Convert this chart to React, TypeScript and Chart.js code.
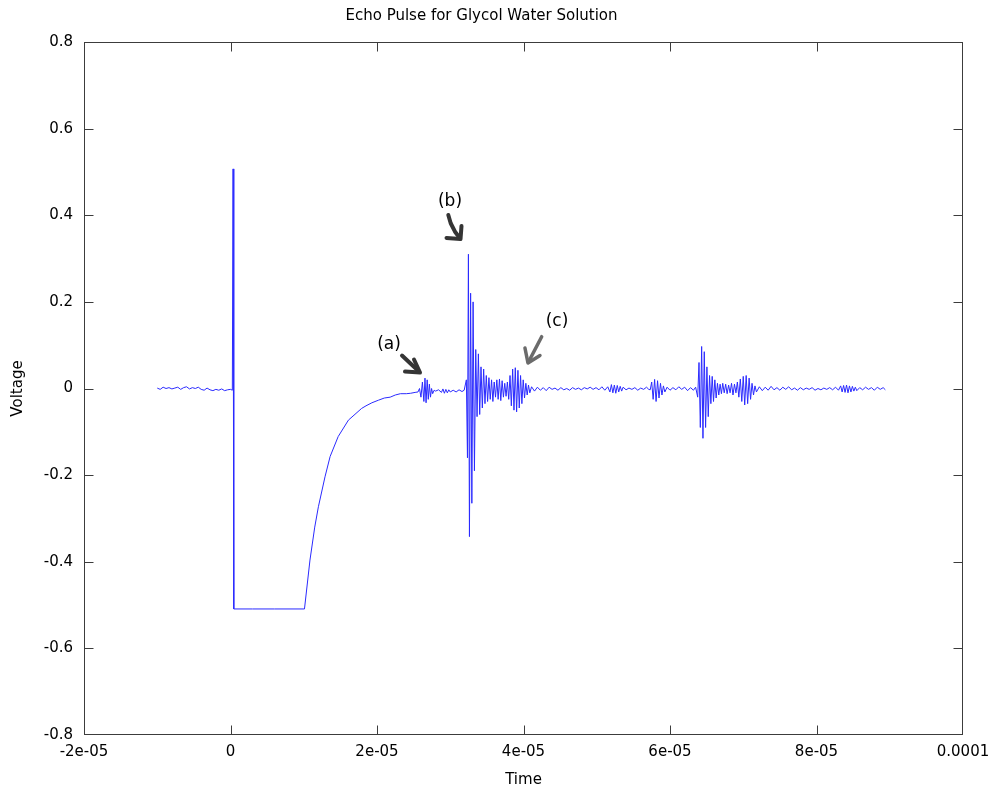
import React, { useEffect, useRef } from "react";
import { Chart, registerables } from "chart.js";

Chart.register(...registerables);

const TITLE = "Echo Pulse for Glycol Water Solution";
const X_LABEL = "Time";
const Y_LABEL = "Voltage";

// x axis works in microseconds; labels show seconds as in the original
const X_TICK_VALUES = [-20, 0, 20, 40, 60, 80, 100];
const X_TICK_LABELS = ["-2e-05", "0", "2e-05", "4e-05", "6e-05", "8e-05", "0.0001"];
const Y_TICK_VALUES = [-0.8, -0.6, -0.4, -0.2, 0, 0.2, 0.4, 0.6, 0.8];
const Y_TICK_LABELS = ["-0.8", "-0.6", "-0.4", "-0.2", "0", "0.2", "0.4", "0.6", "0.8"];

// ---- signal segments: time (µs) and voltage (V) ----
const preNoiseT = [-10.0, -9.6, -9.2, -8.8, -8.4, -8.0, -7.6, -7.2, -6.8, -6.4, -6.0, -5.6, -5.2, -4.8, -4.4, -4.0, -3.6, -3.2, -2.8, -2.4, -2.0, -1.6, -1.2, -0.8, -0.4, 0.0, 0.25];
const preNoiseV = [0.001, -0.002, 0.003, 0.0, 0.002, -0.001, 0.001, 0.003, -0.002, 0.002, 0.004, -0.001, 0.002, 0.0, 0.003, -0.002, -0.004, 0.001, -0.003, -0.005, -0.002, -0.004, -0.001, -0.005, -0.003, -0.002, -0.004];

const pulseT = [0.35, 0.45, 3.0, 6.0, 10.1];
const pulseV = [0.507, -0.509, -0.509, -0.509, -0.509];

const recoveryT = [10.85, 11.5, 12.0, 12.9, 13.6, 14.7, 16.1, 17.9, 18.5, 19.3, 20.2, 21.0, 21.8, 22.5, 23.2, 24.0, 24.6, 25.2];
const recoveryV = [-0.396, -0.32, -0.273, -0.204, -0.157, -0.111, -0.073, -0.046, -0.040, -0.033, -0.027, -0.022, -0.02, -0.015, -0.012, -0.012, -0.011, -0.009];

const echoAT = [25.6, 25.8, 26.0, 26.2, 26.4, 26.55, 26.7, 26.85, 27.0, 27.15, 27.3, 27.45, 27.6, 27.8, 28.0, 28.4, 28.8, 29.0, 29.2, 29.4, 29.6, 29.8, 30.0, 30.4, 30.8, 31.2, 31.6, 31.9];
const echoAV = [-0.008, 0.0, -0.02, 0.015, -0.03, 0.024, -0.033, 0.02, -0.025, 0.01, -0.02, 0.0, -0.012, -0.004, -0.006, -0.003, -0.009, -0.001, -0.011, -0.002, -0.01, -0.003, -0.008, -0.004, -0.008, -0.003, -0.007, -0.004];

const echoBT = [32.2, 32.35, 32.48, 32.62, 32.78, 32.95, 33.12, 33.3, 33.48, 33.66, 33.84, 34.02, 34.2, 34.38, 34.56, 34.74, 34.92, 35.1, 35.28, 35.46, 35.64, 35.82, 36.0, 36.18];
const echoBV = [0.02, -0.16, 0.31, -0.342, 0.22, -0.265, 0.2, -0.19, 0.09, -0.065, 0.08, -0.06, 0.05, -0.045, 0.045, -0.035, 0.03, -0.03, 0.025, -0.025, 0.02, -0.03, 0.015, -0.02];

const echoCT = [36.36, 36.54, 36.72, 36.9, 37.08, 37.26, 37.44, 37.62, 37.8, 37.98, 38.16, 38.34, 38.52, 38.7, 38.88, 39.06, 39.24, 39.42, 39.6, 39.78, 39.96, 40.14, 40.32, 40.5, 40.68, 40.86];
const echoCV = [0.02, -0.025, 0.022, -0.028, 0.018, -0.02, 0.012, -0.018, 0.015, -0.025, 0.03, -0.04, 0.045, -0.05, 0.048, -0.054, 0.042, -0.045, 0.03, -0.035, 0.02, -0.022, 0.012, -0.015, 0.008, -0.01];

const midNoiseT = [41.1, 41.5, 41.9, 42.3, 42.7, 43.1, 43.5, 43.9, 44.3, 44.7, 45.1, 45.5, 45.9, 46.3, 46.7, 47.1, 47.5, 47.9, 48.3, 48.7, 49.1, 49.5, 49.9, 50.3, 50.7, 51.1, 51.5, 51.8, 52.0, 52.2, 52.4, 52.6, 52.8, 53.0, 53.2, 53.4, 53.6, 54.0, 54.4, 54.8, 55.2, 55.6, 56.0, 56.4, 56.8, 57.1];
const midNoiseV = [0.004, -0.006, 0.003, -0.004, 0.002, -0.005, 0.003, -0.002, 0.001, -0.004, 0.002, -0.003, 0.0, -0.004, 0.002, -0.002, 0.001, -0.003, 0.002, -0.001, 0.003, -0.002, 0.002, -0.003, 0.004, -0.004, 0.004, -0.008, 0.009, -0.01, 0.008, -0.011, 0.007, -0.008, 0.005, -0.006, 0.003, -0.003, 0.001, -0.002, 0.002, -0.004, 0.001, -0.002, 0.003, -0.002];

const echoDT = [57.3, 57.5, 57.7, 57.9, 58.1, 58.3, 58.5, 58.7, 58.9, 59.1, 59.3, 59.6, 60.0, 60.4, 60.8, 61.2, 61.6, 62.0, 62.4, 62.8, 63.2, 63.5];
const echoDV = [-0.003, 0.015, -0.025, 0.021, -0.03, 0.018, -0.022, 0.012, -0.015, 0.006, -0.008, 0.003, -0.004, 0.002, -0.003, 0.004, -0.002, 0.003, -0.005, 0.002, -0.004, 0.003];

const echoET = [63.78, 63.96, 64.14, 64.32, 64.5, 64.68, 64.86, 65.04, 65.22, 65.4, 65.58, 65.76, 65.94, 66.12, 66.3, 66.48, 66.66, 66.84, 67.02, 67.2, 67.4, 67.6, 67.8, 68.0, 68.2, 68.4, 68.6, 68.8, 69.0, 69.2, 69.4, 69.6, 69.8, 70.0, 70.2, 70.4, 70.6, 70.8, 71.0, 71.2, 71.4, 71.6, 71.8];
const echoEV = [-0.02, 0.06, -0.09, 0.097, -0.115, 0.085, -0.09, 0.05, -0.065, 0.03, -0.035, 0.028, -0.03, 0.02, -0.022, 0.012, -0.015, 0.01, -0.012, 0.012, -0.01, 0.01, -0.012, 0.008, -0.01, 0.012, -0.015, 0.01, -0.01, 0.015, -0.02, 0.022, -0.03, 0.028, -0.038, 0.03, -0.035, 0.024, -0.025, 0.012, -0.015, 0.006, -0.008];

const tailNoiseT = [72.2, 72.6, 73.0, 73.4, 73.8, 74.2, 74.6, 75.0, 75.4, 75.8, 76.2, 76.6, 77.0, 77.4, 77.8, 78.2, 78.6, 79.0, 79.4, 79.8, 80.2, 80.6, 81.0, 81.4, 81.8, 82.2, 82.6, 83.0, 83.3, 83.5, 83.7, 83.9, 84.1, 84.3, 84.5, 84.7, 84.9, 85.1, 85.3, 85.5, 85.9, 86.3, 86.7, 87.1, 87.5, 87.9, 88.3, 88.7, 89.1, 89.4];
const tailNoiseV = [0.004, -0.005, 0.003, -0.004, 0.005, -0.003, 0.002, -0.004, 0.003, -0.002, 0.004, -0.003, 0.001, -0.004, 0.002, -0.003, 0.001, -0.002, 0.002, -0.004, 0.0, -0.003, 0.001, -0.002, 0.002, -0.003, 0.003, -0.004, 0.006, -0.008, 0.007, -0.009, 0.008, -0.01, 0.006, -0.008, 0.005, -0.006, 0.003, -0.005, 0.002, -0.003, 0.003, -0.002, 0.002, -0.004, 0.003, -0.002, 0.002, -0.003];

const SEGMENTS_T = [preNoiseT, pulseT, recoveryT, echoAT, echoBT, echoCT, midNoiseT, echoDT, echoET, tailNoiseT];
const SEGMENTS_V = [preNoiseV, pulseV, recoveryV, echoAV, echoBV, echoCV, midNoiseV, echoDV, echoEV, tailNoiseV];

// annotation labels anchored at the arrow tip (data coords: µs, V)
const ANNOTATION_LABELS = ["(a)", "(b)", "(c)"];
const ANNOTATION_TIP_T = [25.87, 31.4, 40.61];
const ANNOTATION_TIP_V = [0.0369, 0.3452, 0.0589];

// drawing geometry for the hand-drawn arrows (pixel offsets from the tip)
const ARROW_STYLE = [
  { color: "#353535", width: 4, text: [-31, -28], shaft: [[-18, -17], [-1, -1]], head: [[-15, -1], [-6, -13]] },
  { color: "#353535", width: 4, text: [-10.5, -37], shaft: [[-12.2, -24], [-9.8, -15.7], [-5.5, -7.3], [-0.5, -0.7]], head: [[-14, -1], [1, -13]] },
  { color: "#6b6b6b", width: 3.5, text: [29, -41], shaft: [[13.7, -26.3], [0.5, -1]], head: [[-3, -15], [12, -7.5]] },
];

const FONT = "'DejaVu Sans', sans-serif";
const FS = 15;

const framePlugin = {
  id: "frame",
  afterDatasetsDraw(chart: any) {
    const { ctx, chartArea: a, scales } = chart;
    ctx.save();
    ctx.strokeStyle = "#3c3c3c";
    ctx.lineWidth = 1;
    const L = Math.round(a.left) + 0.5, R = Math.round(a.right) - 0.5;
    const T = Math.round(a.top) + 0.5, B = Math.round(a.bottom) - 0.5;
    ctx.strokeRect(L, T, R - L, B - T);
    const len = 9;
    ctx.beginPath();
    X_TICK_VALUES.forEach((v) => {
      const x = Math.min(R, Math.max(L, Math.round(scales.x.getPixelForValue(v)) + 0.5));
      ctx.moveTo(x, B); ctx.lineTo(x, B - len);
      ctx.moveTo(x, T); ctx.lineTo(x, T + len);
    });
    Y_TICK_VALUES.forEach((v) => {
      const y = Math.min(B, Math.max(T, Math.round(scales.y.getPixelForValue(v)) + 0.5));
      ctx.moveTo(L, y); ctx.lineTo(L + len, y);
      ctx.moveTo(R, y); ctx.lineTo(R - len, y);
    });
    ctx.stroke();

    // annotations
    ANNOTATION_LABELS.forEach((label, i) => {
      const st = ARROW_STYLE[i];
      const tx = scales.x.getPixelForValue(ANNOTATION_TIP_T[i]);
      const ty = scales.y.getPixelForValue(ANNOTATION_TIP_V[i]);
      ctx.fillStyle = "#000";
      ctx.font = `17px ${FONT}`;
      ctx.textAlign = "center";
      ctx.textBaseline = "middle";
      ctx.fillText(label, tx + st.text[0], ty + st.text[1]);
      ctx.strokeStyle = st.color;
      ctx.lineWidth = st.width;
      ctx.lineCap = "round";
      ctx.lineJoin = "round";
      ctx.beginPath();
      st.shaft.forEach((p, k) => {
        if (k === 0) ctx.moveTo(tx + p[0], ty + p[1]);
        else ctx.lineTo(tx + p[0], ty + p[1]);
      });
      ctx.stroke();
      ctx.beginPath();
      ctx.moveTo(tx + st.head[0][0], ty + st.head[0][1]);
      ctx.lineTo(tx, ty);
      ctx.lineTo(tx + st.head[1][0], ty + st.head[1][1]);
      ctx.stroke();
    });
    ctx.restore();
  },
};

export default function App() {
  const ref = useRef<HTMLCanvasElement | null>(null);
  useEffect(() => {
    const points: { x: number; y: number }[] = [];
    SEGMENTS_T.forEach((ts, s) => {
      ts.forEach((t, i) => points.push({ x: t, y: SEGMENTS_V[s][i] }));
    });
    const chart = new Chart(ref.current as HTMLCanvasElement, {
      type: "line",
      data: {
        datasets: [
          {
            data: points,
            borderColor: "#2a2aff",
            borderWidth: 1,
            pointRadius: 0,
            tension: 0,
            fill: false,
          },
        ],
      },
      options: {
        responsive: false,
        animation: false,
        layout: { padding: { left: 0, right: 32, top: 0, bottom: 0 } },
        plugins: {
          legend: { display: false },
          tooltip: { enabled: false },
          title: {
            display: true,
            text: TITLE,
            color: "#000",
            font: { family: FONT, size: FS, weight: "normal", lineHeight: 1.2 },
            padding: { top: 7, bottom: 17 },
          },
        },
        scales: {
          x: {
            type: "linear",
            min: -20,
            max: 100,
            afterBuildTicks: (s: any) => { s.ticks = X_TICK_VALUES.map((v) => ({ value: v })); },
            afterFit: (s: any) => { s.height = 58; s.paddingRight = 0; s.paddingLeft = 0; },
            grid: { display: false, drawTicks: false },
            border: { display: false },
            ticks: {
              color: "#000",
              font: { family: FONT, size: FS },
              padding: 8,
              maxRotation: 0,
              autoSkip: false,
              callback: (v: any) => X_TICK_LABELS[X_TICK_VALUES.indexOf(v)] ?? "",
            },
            title: {
              display: true,
              text: X_LABEL,
              color: "#000",
              font: { family: FONT, size: FS },
              padding: { top: 0, bottom: 4 },
            },
          },
          y: {
            type: "linear",
            min: -0.8,
            max: 0.8,
            afterBuildTicks: (s: any) => { s.ticks = Y_TICK_VALUES.map((v) => ({ value: v })); },
            afterFit: (s: any) => { s.width = 84; s.paddingTop = 0; s.paddingBottom = 0; },
            grid: { display: false, drawTicks: false },
            border: { display: false },
            ticks: {
              color: "#000",
              font: { family: FONT, size: FS },
              padding: 11,
              autoSkip: false,
              callback: (v: any) => {
                const idx = Y_TICK_VALUES.findIndex((t) => Math.abs(t - v) < 1e-9);
                return idx >= 0 ? Y_TICK_LABELS[idx] : "";
              },
            },
            title: {
              display: true,
              text: Y_LABEL,
              color: "#000",
              font: { family: FONT, size: FS },
              padding: { top: 9, bottom: 0 },
            },
          },
        },
      },
      plugins: [framePlugin],
    });
    return () => chart.destroy();
  }, []);
  return (
    <div style={{ position: "fixed", left: 0, top: 0, width: 995, height: 793, background: "#fff" }}>
      <canvas ref={ref} width={995} height={793} style={{ display: "block" }} />
    </div>
  );
}
